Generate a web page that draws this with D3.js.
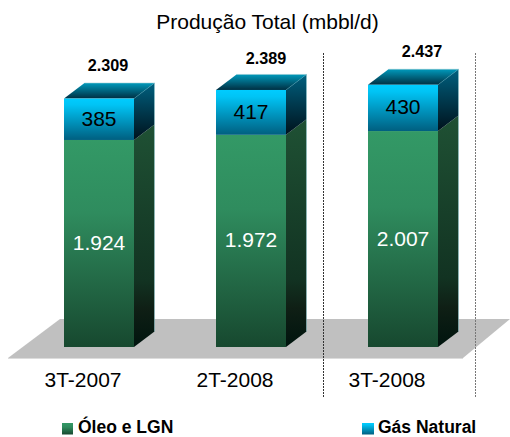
<!DOCTYPE html>
<html><head><meta charset="utf-8">
<script src="https://cdn.jsdelivr.net/npm/d3@7/dist/d3.min.js"></script>
<style>html,body{margin:0;padding:0;background:#fff}svg{display:block}text{font-family:"Liberation Sans",Arial,sans-serif}</style>
</head><body><svg id="c" width="510" height="437"></svg>
<script>
const categories = ["3T-2007","2T-2008","3T-2008"];
const oleoLGN = [1924,1972,2007];
const gasNatural = [385,417,430];
const totals = [2309,2389,2437];
const seriesNames = ["Óleo e LGN","Gás Natural"];
const titleText = "Produção Total (mbbl/d)";

const W=510,H=437, depthX=20.5, depthY=-15.5;
const totalLabelOffset=[[9,-12],[15,-10.5],[19,-12.5]];
const fmt = d3.format(",");
const ptBR = v => fmt(v).replace(/,/g,".");
const svg=d3.select("#c");
const defs=svg.append("defs");
function grad(id,stops){
  const g=defs.append("linearGradient").attr("id",id).attr("x1",0).attr("y1",0).attr("x2",0).attr("y2",1);
  stops.forEach(s=>g.append("stop").attr("offset",s[0]).attr("stop-color",s[1]));
}
grad("gF",[[0,"#339966"],[0.35,"#2f8c5e"],[1,"#17482f"]]);
grad("gS",[[0,"#1f5134"],[0.7,"#123322"],[0.83,"#0f1f15"],[1,"#00140e"]]);
grad("bF",[[0,"#00ccff"],[0.15,"#00c4f5"],[1,"#005f80"]]);
grad("bS",[[0,"#00607f"],[1,"#00121c"]]);
grad("bT",[[0,"#0099bb"],[1,"#002f42"]]);

const x=d3.scaleBand().domain(categories).range([23,479]).paddingInner(82/152).paddingOuter(41/152);
const y=d3.scaleLinear().domain([0,2500]).range([347,78]);

// platform
svg.append("path").attr("d","M8,358L60,319L510,319L463,358Z").attr("fill","#c0c0c0");
svg.append("path").attr("d","M8,358.5L463,358.5").attr("stroke","#dcdcdc").attr("stroke-width",1);

// separators
[323.5,475.5].forEach((px,i)=>svg.append("line").attr("x1",px).attr("x2",px).attr("y1",53).attr("y2",398)
  .attr("stroke",i?"#777":"#333").attr("stroke-width",1).attr("stroke-dasharray","2,1"));

categories.forEach((c,i)=>{
  const x0=x(c),bw=x.bandwidth(),x1=x0+bw;
  const yb=y(0),ym=y(oleoLGN[i]),yt=y(oleoLGN[i]+gasNatural[i]);
  const g=svg.append("g");
  // side faces
  g.append("path").attr("d",`M${x1},${yb}L${x1},${ym}L${x1+depthX},${ym+depthY}L${x1+depthX},${yb+depthY}Z`).attr("fill","url(#gS)");
  g.append("path").attr("d",`M${x1},${ym}L${x1},${yt}L${x1+depthX},${yt+depthY}L${x1+depthX},${ym+depthY}Z`).attr("fill","url(#bS)");
  // top
  g.append("path").attr("d",`M${x0},${yt}L${x1},${yt}L${x1+depthX},${yt+depthY}L${x0+depthX},${yt+depthY}Z`).attr("fill","url(#bT)");
  // front
  g.append("rect").attr("x",x0).attr("y",ym).attr("width",bw).attr("height",yb-ym).attr("fill","url(#gF)");
  g.append("rect").attr("x",x0).attr("y",yt).attr("width",bw).attr("height",ym-yt).attr("fill","url(#bF)");
  // highlight edges
  g.append("path").attr("d",`M${x0+depthX},${yt+depthY}L${x1+depthX},${yt+depthY}L${x1+depthX},${yb+depthY}`)
    .attr("fill","none").attr("stroke","#8fc7cf").attr("stroke-opacity",.7).attr("stroke-width",.8);
  g.append("path").attr("d",`M${x1},${yt}L${x1+depthX},${yt+depthY}`)
    .attr("fill","none").attr("stroke","#3f9ab0").attr("stroke-opacity",.6).attr("stroke-width",.7);
  // labels
  g.append("text").attr("x",x0+bw/2).attr("y",(yt+ym)/2+6.5).attr("text-anchor","middle").attr("font-size",21).attr("fill","#000").text(gasNatural[i]);
  g.append("text").attr("x",x0+bw/2).attr("y",(yb+ym)/2+6.5).attr("text-anchor","middle").attr("font-size",21).attr("fill","#fff").text(ptBR(oleoLGN[i]));
  g.append("text").attr("x",x0+bw/2+totalLabelOffset[i][0]).attr("y",yt+depthY+totalLabelOffset[i][1]).attr("text-anchor","middle").attr("font-size",16.2).attr("font-weight","bold").attr("fill","#000").text(ptBR(totals[i]));
});

// axis
const ax=svg.append("g").attr("transform","translate(-16,347)").call(d3.axisBottom(x).tickSize(0).tickPadding(25));
ax.select(".domain").remove();
ax.selectAll("text").attr("font-size",21).attr("fill","#000").style("font-family",'"Liberation Sans",Arial,sans-serif');

// title
svg.append("text").attr("x",267.5).attr("y",29).attr("text-anchor","middle").attr("font-size",21).attr("fill","#000").text(titleText);

// legend
const legX=[62,362],legFill=["url(#gF)","url(#bF)"];
seriesNames.forEach((n,i)=>{
  svg.append("rect").attr("x",legX[i]).attr("y",423).attr("width",i?12:11).attr("height",11.5).attr("fill",legFill[i]);
  svg.append("text").attr("x",legX[i]+16).attr("y",433).attr("font-size",17.5).attr("font-weight","bold").attr("fill","#000").text(n);
});
</script></body></html>
